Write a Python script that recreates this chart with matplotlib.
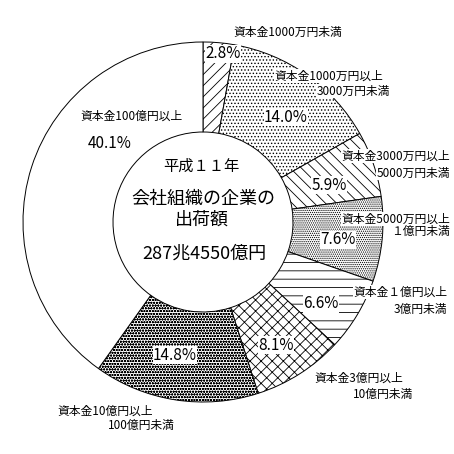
import matplotlib
matplotlib.use("Agg")
import matplotlib.pyplot as plt

plt.rcParams["font.family"] = ["Noto Sans CJK JP", "DejaVu Sans"]
plt.rcParams["hatch.linewidth"] = 0.6

# 資本金階級別の出荷額構成比（時計回り、上から）
categories = [
    ["資本金1000万円未満"],
    ["資本金1000万円以上", "3000万円未満"],
    ["資本金3000万円以上", "5000万円未満"],
    ["資本金5000万円以上", "１億円未満"],
    ["資本金１億円以上", "3億円未満"],
    ["資本金3億円以上", "10億円未満"],
    ["資本金10億円以上", "100億円未満"],
    ["資本金100億円以上"],
]
shares = [2.8, 14.0, 5.9, 7.6, 6.6, 8.1, 14.8, 40.1]
pct_labels = ["2.8%", "14.0%", "5.9%", "7.6%", "6.6%", "8.1%", "14.8%", "40.1%"]
hatches = ["///", ".....", "\\\\\\", "........", "--", "xxx", "oooooo", ""]

center_lines = ["平成１１年", "会社組織の企業の", "出荷額", "287兆4550億円"]

H = 454


def px(x, y):
    return x, H - y


# 配置（ピクセル座標）：各行の右端と中心 y
cat_pos = [
    [(342, 32)],
    [(383, 76), (390, 91)],
    [(450, 156), (450, 173)],
    [(450, 219), (450, 231)],
    [(447, 292), (447, 309)],
    [(403, 378), (413, 394)],
    [(153, 411), (175, 425)],
    [(183, 116)],
]
pct_pos = [(223, 54), (286, 117), (329, 185), (338, 240), (321, 304),
           (276, 345), (175, 355), (110, 143)]
center_pos = [(201, 166), (203, 199), (202, 220), (204, 254)]
center_size = [11, 13, 13, 13]

fig = plt.figure(figsize=(4.54, 4.54), dpi=100)
ax = fig.add_axes([0, 0, 1, 1])

wedges, _ = ax.pie(
    shares,
    startangle=90,
    counterclock=False,
    center=px(203, 222),
    radius=180,
    colors=["white"] * len(shares),
    hatch=hatches,
    wedgeprops=dict(width=90, edgecolor="black", linewidth=0.7),
)

ax.set_xlim(0, H)
ax.set_ylim(0, H)
ax.set_aspect("equal")
ax.axis("off")

for lines, poss in zip(categories, cat_pos):
    for txt, (x, y) in zip(lines, poss):
        ax.text(*px(x, y), txt, ha="right", va="center", fontsize=8.5,
                bbox=dict(facecolor="white", edgecolor="none", pad=0.2))

for txt, (x, y) in zip(pct_labels, pct_pos):
    ax.text(*px(x, y), txt, ha="center", va="center", fontsize=11,
            bbox=dict(facecolor="white", edgecolor="none", pad=0.3))

for txt, (x, y), fs in zip(center_lines, center_pos, center_size):
    ax.text(*px(x, y), txt, ha="center", va="center", fontsize=fs)

fig.savefig("out.png", dpi=100)
